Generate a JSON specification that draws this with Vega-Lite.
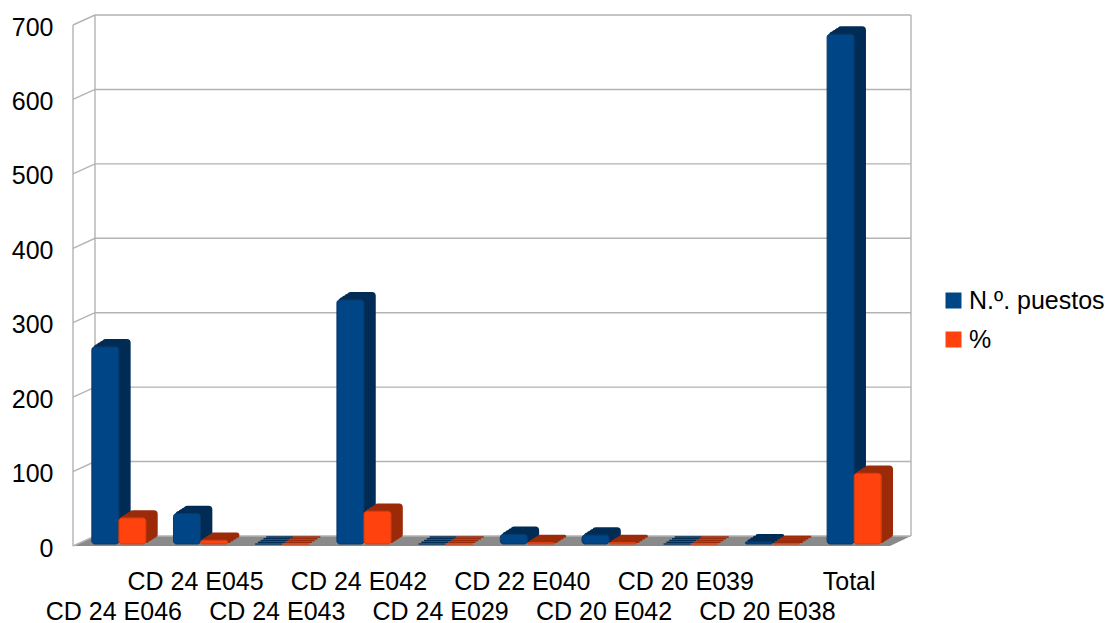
{"$schema":"https://vega.github.io/schema/vega-lite/v6.json","width":817,"height":521,"autosize":{"type":"none"},"padding":{"left":73,"top":25,"right":226,"bottom":77},"background":"white","config":{"view":{"stroke":null},"font":"Liberation Sans"},
"datasets":{
"bars":[
{"puesto":"CD 24 E046","serie":"N.º. puestos","valor":265},{"puesto":"CD 24 E046","serie":"%","valor":35},
{"puesto":"CD 24 E045","serie":"N.º. puestos","valor":41},{"puesto":"CD 24 E045","serie":"%","valor":5},
{"puesto":"CD 24 E043","serie":"N.º. puestos","valor":0},{"puesto":"CD 24 E043","serie":"%","valor":0},
{"puesto":"CD 24 E042","serie":"N.º. puestos","valor":328},{"puesto":"CD 24 E042","serie":"%","valor":44},
{"puesto":"CD 24 E029","serie":"N.º. puestos","valor":0},{"puesto":"CD 24 E029","serie":"%","valor":0},
{"puesto":"CD 22 E040","serie":"N.º. puestos","valor":13},{"puesto":"CD 22 E040","serie":"%","valor":2},
{"puesto":"CD 20 E042","serie":"N.º. puestos","valor":12},{"puesto":"CD 20 E042","serie":"%","valor":2},
{"puesto":"CD 20 E039","serie":"N.º. puestos","valor":0},{"puesto":"CD 20 E039","serie":"%","valor":0},
{"puesto":"CD 20 E038","serie":"N.º. puestos","valor":3},{"puesto":"CD 20 E038","serie":"%","valor":0.5},
{"puesto":"Total","serie":"N.º. puestos","valor":685},{"puesto":"Total","serie":"%","valor":95}],
"floor":[{"d":0,"a":0,"b":0},{"d":22,"a":13.44,"b":0},{"d":817,"a":13.44,"b":0},{"d":838,"a":13.44,"b":13.44}],
"walls":[
{"g":"0","d":0,"v":0},{"g":"0","d":22,"v":13.44},{"g":"0","d":838,"v":13.44},
{"g":"100","d":0,"v":100},{"g":"100","d":22,"v":113.44},{"g":"100","d":838,"v":113.44},
{"g":"200","d":0,"v":200},{"g":"200","d":22,"v":213.44},{"g":"200","d":838,"v":213.44},
{"g":"300","d":0,"v":300},{"g":"300","d":22,"v":313.44},{"g":"300","d":838,"v":313.44},
{"g":"400","d":0,"v":400},{"g":"400","d":22,"v":413.44},{"g":"400","d":838,"v":413.44},
{"g":"500","d":0,"v":500},{"g":"500","d":22,"v":513.44},{"g":"500","d":838,"v":513.44},
{"g":"600","d":0,"v":600},{"g":"600","d":22,"v":613.44},{"g":"600","d":838,"v":613.44},
{"g":"700","d":0,"v":700},{"g":"700","d":22,"v":713.44},{"g":"700","d":838,"v":713.44},
{"g":"front","d":0,"v":0},{"g":"front","d":0,"v":700},
{"g":"back","d":22,"v":13.44},{"g":"back","d":22,"v":713.44},
{"g":"right","d":838,"v":13.44},{"g":"right","d":838,"v":713.44}]},
"layer":[
{"data":{"name":"floor"},"mark":{"type":"area","color":"#8a8a8a","clip":false},"encoding":{"x":{"field":"d","type":"quantitative","axis":null,"scale":{"domain":[0,817],"nice":false}},"y":{"field":"a","type":"quantitative","axis":null,"scale":{"domain":[0,700],"nice":false}},"y2":{"field":"b"}}},
{"data":{"name":"walls"},"mark":{"type":"line","color":"#b3b3b3","strokeWidth":1.4,"clip":false},"encoding":{"x":{"field":"d","type":"quantitative","axis":null,"scale":{"domain":[0,817],"nice":false}},"y":{"field":"v","type":"quantitative","scale":{"domain":[0,700],"nice":false},"axis":{"title":null,"grid":false,"domain":false,"ticks":false,"values":[0,100,200,300,400,500,600,700],"labelFontSize":25,"labelColor":"#000000","labelPadding":20,"labelFlush":false,"labelOverlap":false,"labelBaseline":"middle","labelOffset":2}},"detail":{"field":"g"}}},
{"data":{"name":"bars"},"mark":{"type":"bar","opacity":0},"encoding":{"x":{"field":"puesto","type":"nominal","sort":null,"scale":{"paddingInner":0,"paddingOuter":0},"axis":{"title":null,"domain":false,"ticks":false,"labelAngle":0,"labelFontSize":25,"labelColor":"#000000","labelPadding":23,"labelLimit":0,"labelOverlap":false,"labelFlush":false,"labelBound":false,"labelLineHeight":30,"labelBaseline":"top","labelExpr":"indexof(['CD 24 E046','CD 24 E043','CD 24 E029','CD 20 E042','CD 20 E038'], datum.label) >= 0 ? ['', datum.label] : datum.label"}},"y":{"field":"valor","type":"quantitative","axis":null,"scale":{"domain":[0,700],"nice":false}}}},
{"data":{"name":"bars"},"mark":{"type":"bar","cornerRadius":3,"strokeWidth":1.6},"encoding":{"x":{"field":"puesto","type":"nominal","sort":null,"axis":null,"scale":{"paddingInner":0,"paddingOuter":0,"range":[16,833]}},"xOffset":{"field":"serie","sort":["N.º. puestos","%"],"scale":{"paddingInner":0,"paddingOuter":0.51}},"y":{"field":"valor","type":"quantitative","axis":null,"scale":{"domain":[0,700],"nice":false,"range":[512,-9]}},"color":{"field":"serie","legend":null,"scale":{"domain":["N.º. puestos","%"],"range":["#002c55","#9c2b09"]}},"stroke":{"field":"serie","legend":null,"scale":{"domain":["N.º. puestos","%"],"range":["#002c55","#9c2b09"]}}}},
{"data":{"name":"bars"},"mark":{"type":"bar","cornerRadius":3,"strokeWidth":1.6},"encoding":{"x":{"field":"puesto","type":"nominal","sort":null,"axis":null,"scale":{"paddingInner":0,"paddingOuter":0,"range":[13.25,830.25]}},"xOffset":{"field":"serie","sort":["N.º. puestos","%"],"scale":{"paddingInner":0,"paddingOuter":0.51}},"y":{"field":"valor","type":"quantitative","axis":null,"scale":{"domain":[0,700],"nice":false,"range":[513.75,-7.25]}},"color":{"field":"serie","legend":null,"scale":{"domain":["N.º. puestos","%"],"range":["#002c55","#9c2b09"]}},"stroke":{"field":"serie","legend":null,"scale":{"domain":["N.º. puestos","%"],"range":["#002c55","#9c2b09"]}}}},
{"data":{"name":"bars"},"mark":{"type":"bar","cornerRadius":3,"strokeWidth":1.6},"encoding":{"x":{"field":"puesto","type":"nominal","sort":null,"axis":null,"scale":{"paddingInner":0,"paddingOuter":0,"range":[10.5,827.5]}},"xOffset":{"field":"serie","sort":["N.º. puestos","%"],"scale":{"paddingInner":0,"paddingOuter":0.51}},"y":{"field":"valor","type":"quantitative","axis":null,"scale":{"domain":[0,700],"nice":false,"range":[515.5,-5.5]}},"color":{"field":"serie","legend":null,"scale":{"domain":["N.º. puestos","%"],"range":["#002c55","#9c2b09"]}},"stroke":{"field":"serie","legend":null,"scale":{"domain":["N.º. puestos","%"],"range":["#002c55","#9c2b09"]}}}},
{"data":{"name":"bars"},"mark":{"type":"bar","cornerRadius":3,"strokeWidth":1.6},"encoding":{"x":{"field":"puesto","type":"nominal","sort":null,"axis":null,"scale":{"paddingInner":0,"paddingOuter":0,"range":[7.75,824.75]}},"xOffset":{"field":"serie","sort":["N.º. puestos","%"],"scale":{"paddingInner":0,"paddingOuter":0.51}},"y":{"field":"valor","type":"quantitative","axis":null,"scale":{"domain":[0,700],"nice":false,"range":[517.25,-3.75]}},"color":{"field":"serie","legend":null,"scale":{"domain":["N.º. puestos","%"],"range":["#002c55","#9c2b09"]}},"stroke":{"field":"serie","legend":null,"scale":{"domain":["N.º. puestos","%"],"range":["#002c55","#9c2b09"]}}}},
{"data":{"name":"bars"},"mark":{"type":"bar","cornerRadius":3,"strokeWidth":1},"encoding":{"x":{"field":"puesto","type":"nominal","sort":null,"axis":null,"scale":{"paddingInner":0,"paddingOuter":0,"range":[5,822]}},"xOffset":{"field":"serie","sort":["N.º. puestos","%"],"scale":{"paddingInner":0,"paddingOuter":0.51}},"y":{"field":"valor","type":"quantitative","axis":null,"scale":{"domain":[0,700],"nice":false,"range":[519,-2]}},"color":{"field":"serie","scale":{"domain":["N.º. puestos","%"],"range":["#004586","#ff420e"]},"legend":{"title":null,"orient":"none","legendX":868,"legendY":263,"symbolType":"square","symbolSize":256,"symbolStrokeWidth":0,"labelFontSize":25,"labelColor":"#000000","rowPadding":13,"labelOffset":3,"labelLimit":0}},"stroke":{"field":"serie","legend":null,"scale":{"domain":["N.º. puestos","%"],"range":["#0a3a6c","#d9400f"]}}}}
],
"resolve":{"scale":{"x":"independent","y":"independent","color":"independent","stroke":"independent"}}}
